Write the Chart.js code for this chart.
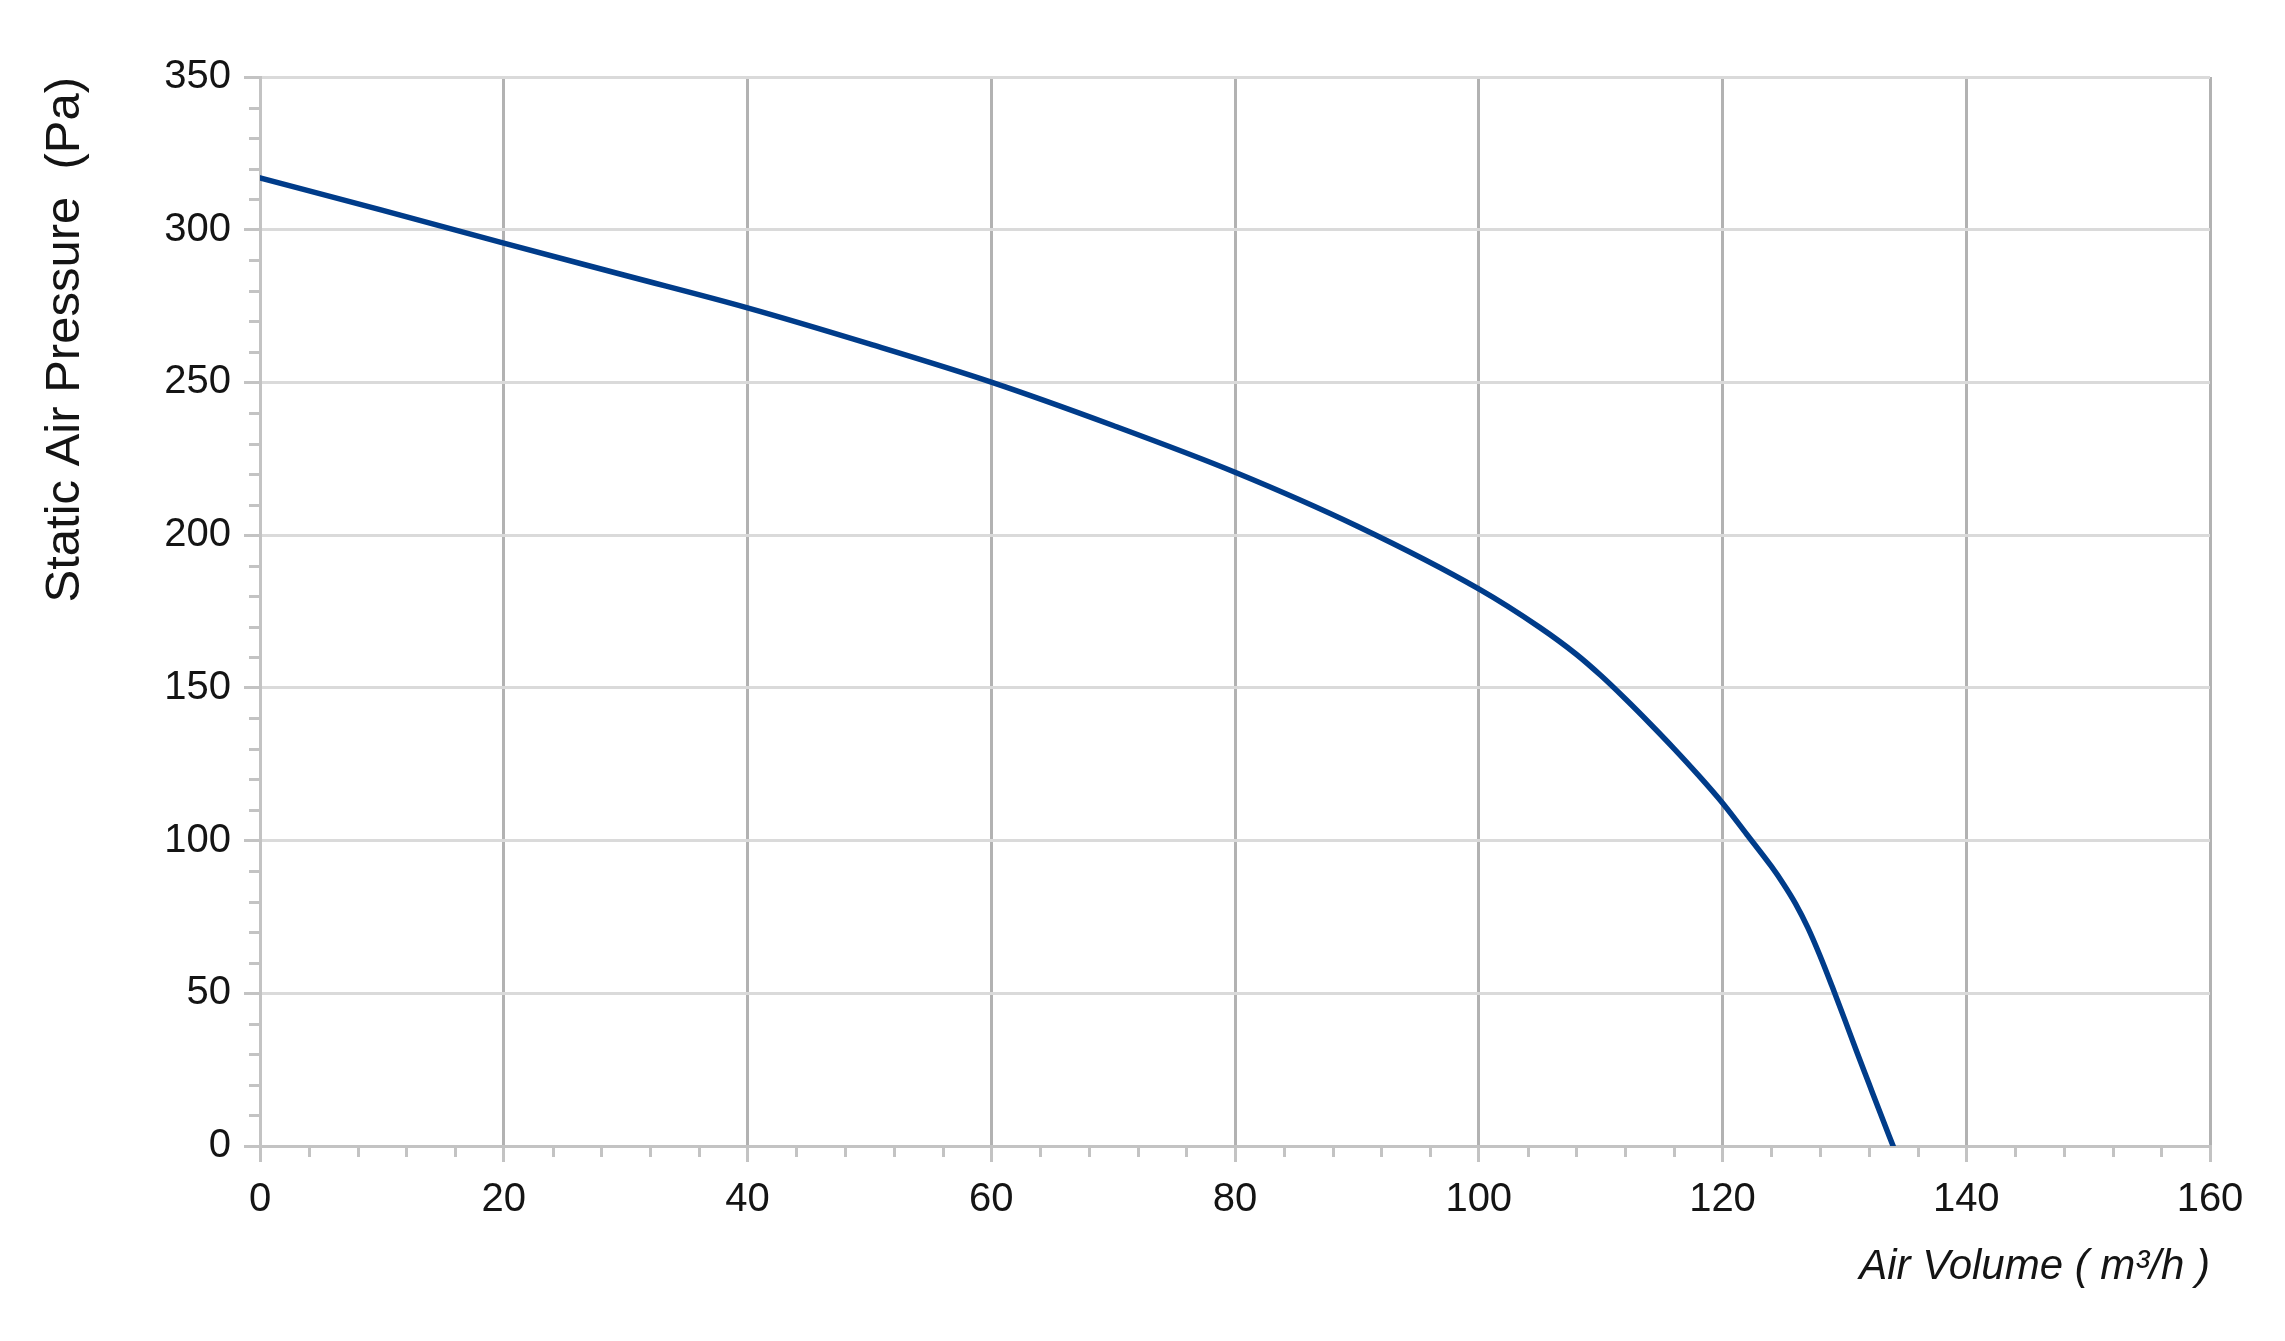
<!DOCTYPE html>
<html>
<head>
<meta charset="utf-8">
<script src="https://cdn.jsdelivr.net/npm/chart.js@4.4.1/dist/chart.umd.min.js"></script>
<style>
  html, body { margin: 0; padding: 0; background: #ffffff; }
  #wrap { width: 2285px; height: 1341px; position: relative; }
</style>
</head>
<body>
<div id="wrap"><canvas id="c"></canvas></div>
<script>
// Air volume (m³/h)
const airVolume = [0, 10, 20, 30, 40, 50, 60, 70, 80, 90, 100, 105, 108, 110, 112, 114, 116, 118, 120, 122, 124, 125, 126, 127, 128, 129, 130, 131, 132, 133, 134];
// Static air pressure (Pa)
const staticPressure = [317, 306.4, 295.6, 285, 274.4, 262.6, 250.1, 235.9, 220.6, 203, 182.4, 169.8, 161, 154.1, 146.5, 138.5, 130.2, 121.5, 112.3, 102, 91.6, 85.8, 79.3, 71.5, 62.3, 52.2, 41.7, 31, 20.6, 10.2, 0];

const xMin = 0, xMax = 160, xStep = 20, xMinorStep = 4;
const yMin = 0, yMax = 350, yStep = 50, yMinorStep = 10;

const xTitle = 'Air Volume ( m³/h )';
const yTitle = 'Static Air Pressure  (Pa)';

const points = airVolume.map((v, i) => ({ x: v, y: staticPressure[i] }));

const FONT = "'Liberation Sans', Arial, Helvetica, sans-serif";
const AXIS_COLOR = '#c3c3c3';

const minorTicks = {
  id: 'minorTicks',
  afterDraw(chart) {
    const ctx = chart.ctx;
    const xs = chart.scales.x, ys = chart.scales.y;
    const area = chart.chartArea;
    ctx.save();
    ctx.strokeStyle = AXIS_COLOR;
    ctx.lineWidth = 3;
    ctx.beginPath();
    for (let v = yMin; v <= yMax; v += yMinorStep) {
      if (v % yStep === 0) continue;
      const py = Math.round(ys.getPixelForValue(v)) + 0.5;
      ctx.moveTo(area.left - 11, py);
      ctx.lineTo(area.left, py);
    }
    for (let v = xMin; v <= xMax; v += xMinorStep) {
      if (v % xStep === 0) continue;
      const px = Math.round(xs.getPixelForValue(v)) + 0.5;
      ctx.moveTo(px, area.bottom);
      ctx.lineTo(px, area.bottom + 11);
    }
    ctx.stroke();
    ctx.restore();
  }
};

new Chart(document.getElementById('c'), {
  type: 'scatter',
  data: {
    datasets: [{
      data: points,
      showLine: true,
      borderColor: '#003c8a',
      borderWidth: 5.5,
      borderCapStyle: 'round',
      borderJoinStyle: 'round',
      pointRadius: 0,
      pointHoverRadius: 0,
      cubicInterpolationMode: 'monotone',
      fill: false
    }]
  },
  options: {
    responsive: true,
    maintainAspectRatio: false,
    animation: false,
    devicePixelRatio: 1,
    layout: { padding: { top: 77, right: 75, left: 0, bottom: 0 } },
    plugins: { legend: { display: false }, tooltip: { enabled: false } },
    scales: {
      x: {
        type: 'linear',
        min: xMin, max: xMax,
        afterFit(scale) { scale.height = 195; },
        ticks: {
          stepSize: xStep,
          color: '#141414',
          font: { family: FONT, size: 40 },
          padding: 14,
          maxRotation: 0,
          autoSkip: false
        },
        grid: {
          color: (ctx) => (ctx.tick && ctx.tick.value === xMin) ? AXIS_COLOR : '#b2b2b2',
          lineWidth: 3,
          tickLength: 16,
          tickColor: AXIS_COLOR,
          tickWidth: 3
        },
        border: { display: true, color: AXIS_COLOR, width: 3 },
        title: {
          display: true,
          text: xTitle,
          align: 'end',
          color: '#141414',
          font: { family: FONT, size: 42, style: 'italic' },
          padding: { top: 0, bottom: 48 }
        }
      },
      y: {
        type: 'linear',
        min: yMin, max: yMax,
        afterFit(scale) { scale.width = 260; },
        ticks: {
          stepSize: yStep,
          color: '#141414',
          font: { family: FONT, size: 40 },
          padding: 13
        },
        grid: {
          color: (ctx) => (ctx.tick && ctx.tick.value === yMin) ? AXIS_COLOR : '#dadada',
          lineWidth: 3,
          tickLength: 16,
          tickColor: AXIS_COLOR,
          tickWidth: 3
        },
        border: { display: true, color: AXIS_COLOR, width: 3 },
        title: {
          display: true,
          text: yTitle,
          align: 'end',
          color: '#141414',
          font: { family: FONT, size: 49 },
          padding: { top: 36, bottom: 0 }
        }
      }
    }
  },
  plugins: [minorTicks]
});
</script>
</body>
</html>
